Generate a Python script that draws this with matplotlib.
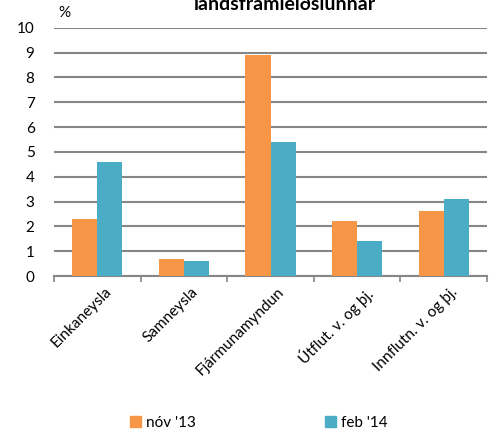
"""
Framlag til hagvaxtar - samanburður tveggja spáa.
"""
import matplotlib
matplotlib.use("Agg")
import matplotlib.pyplot as plt
from matplotlib.patches import Patch
import numpy as np

plt.rcParams['font.family'] = ['Lato', 'DejaVu Sans']

categories = ["Einkaneysla", "Samneysla", "Fjármunamyndun",
              "Útflut. v. og þj.", "Innflutn. v. og þj."]
nov_13 = [2.3, 0.7, 8.9, 2.2, 2.6]
feb_14 = [4.6, 0.6, 5.4, 1.4, 3.1]
series_labels = ["nóv '13", "feb '14"]
y_ticks = list(range(0, 11))

ORANGE = "#F79646"
BLUE = "#4BACC6"
GRID = "#868686"


def plot_chart():
    fig = plt.figure(figsize=(4.93, 4.34), dpi=100)
    ax = fig.add_axes([0.1095, 0.364, 0.8785, 0.572])

    x = np.arange(len(categories))
    width = 0.29
    ax.bar(x - width / 2, nov_13, width, color=ORANGE, zorder=3)
    ax.bar(x + width / 2, feb_14, width, color=BLUE, zorder=3)

    ax.set_xlim(-0.5, len(categories) - 0.5)
    ax.set_ylim(0, 10)
    ax.set_yticks(y_ticks)
    ax.set_yticklabels([str(t) for t in y_ticks], fontsize=11)
    ax.tick_params(axis='y', length=0, pad=14)
    ax.yaxis.grid(True, color=GRID, linewidth=1.5, zorder=0)
    ax.set_axisbelow(True)

    # category boundary ticks on x axis, labels rotated under centers
    ax.set_xticks(np.arange(-0.5, len(categories)), minor=False)
    ax.set_xticklabels([])
    ax.tick_params(axis='x', length=4, color=GRID, width=1.2)
    for xi, label in zip(x, categories):
        ax.text(xi + 0.08, -0.35, label, rotation=45, ha='right', va='top',
                rotation_mode='anchor', fontsize=11)

    for side in ('left', 'right', 'top'):
        ax.spines[side].set_visible(False)
    ax.spines['bottom'].set_color(GRID)
    ax.spines['bottom'].set_linewidth(1.5)

    ax.text(0.01, 1.03, "%", transform=ax.transAxes, fontsize=11,
            ha='left', va='bottom')

    fig.text(0.578, 1 - 10 / 434, "landsframleiðslunnar", fontsize=14,
             fontweight='bold', ha='center', va='baseline')

    handles = [Patch(color=ORANGE), Patch(color=BLUE)]
    fig.legend(handles, series_labels, loc='center', ncol=2,
               bbox_to_anchor=(0.525, 0.025), frameon=False, fontsize=11,
               handlelength=0.7, handleheight=0.7, handletextpad=0.3,
               columnspacing=8.5)

    fig.savefig("out.png", dpi=100)


if __name__ == "__main__":
    plot_chart()
